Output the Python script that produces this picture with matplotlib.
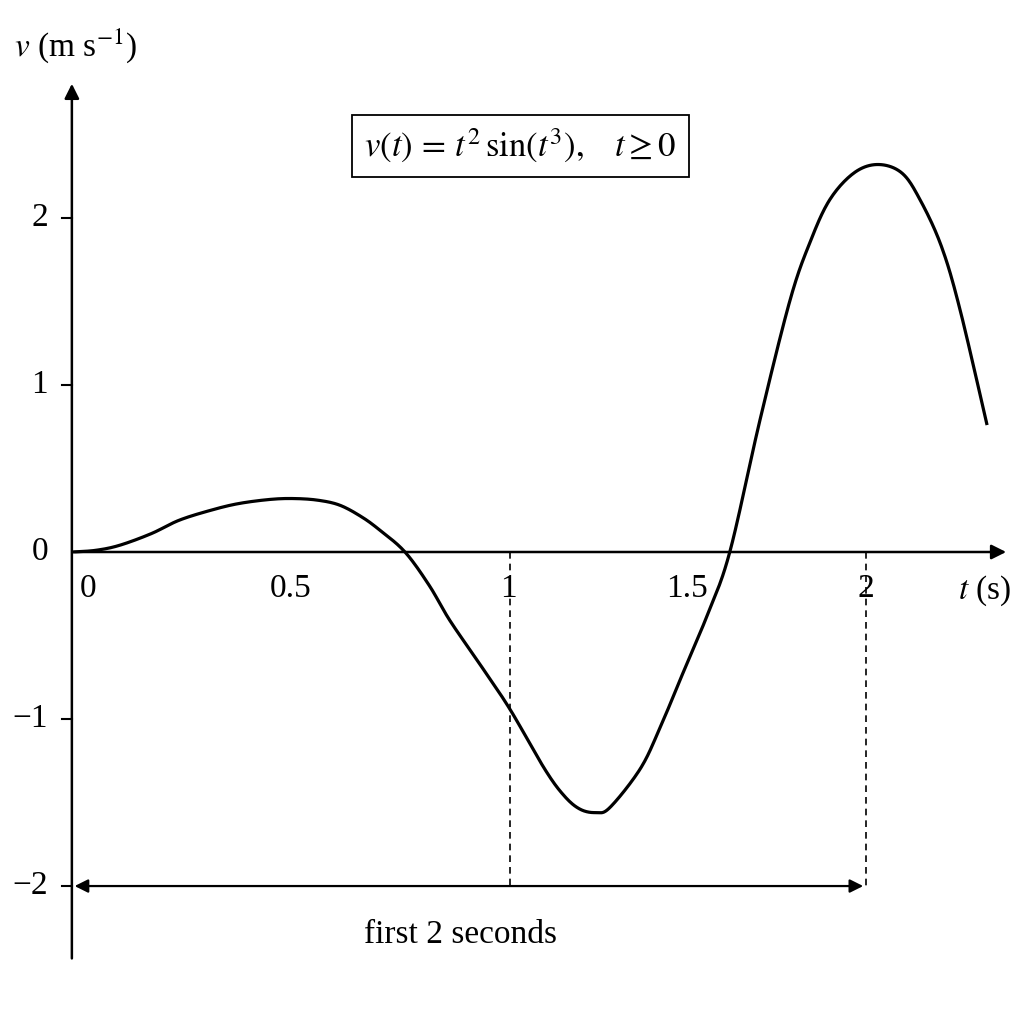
import matplotlib
matplotlib.use("Agg")
import matplotlib.pyplot as plt
import numpy as np

plt.rcParams['font.family'] = ['Liberation Serif', 'DejaVu Serif']
plt.rcParams['mathtext.fontset'] = 'stix'

# curve (t in axis units, v in m/s)
t_vals = [0, 0.06, 0.12, 0.2, 0.27, 0.35, 0.42, 0.5, 0.56, 0.62, 0.675, 0.73, 0.776, 0.839,
          0.9, 0.952, 1.03, 1.103, 1.191, 1.24, 1.28, 1.32, 1.355, 1.431, 1.48, 1.531, 1.6,
          1.657, 1.733, 1.809, 1.86, 1.909, 1.97, 2.03, 2.09, 2.136, 2.19, 2.237, 2.305]
v_vals = [0, 0.01, 0.04, 0.11, 0.19, 0.25, 0.29, 0.315, 0.32, 0.31, 0.28, 0.21, 0.13, 0,
          -0.2, -0.41, -0.68, -0.94, -1.30, -1.46, -1.54, -1.56, -1.53, -1.30, -1.06, -0.77, -0.38,
          0, 0.79, 1.51, 1.86, 2.11, 2.27, 2.32, 2.27, 2.11, 1.83, 1.45, 0.76]
x_tick_pos = [0.04, 0.55, 1.10, 1.55, 2.0]
x_tick_lab = ['0', '0.5', '1', '1.5', '2']
y_ticks = [-2, -1, 0, 1, 2]


def smooth(xs, ys, n=20):
    # Catmull-Rom through the read points, only for a smooth stroke
    p = np.column_stack([xs, ys])
    p = np.vstack([p[0], p, p[-1]])
    out = []
    s = np.linspace(0, 1, n, endpoint=False)[:, None]
    for i in range(1, len(p) - 2):
        p0, p1, p2, p3 = p[i - 1], p[i], p[i + 1], p[i + 2]
        out.append(0.5 * (2 * p1 + (-p0 + p2) * s + (2 * p0 - 5 * p1 + 4 * p2 - p3) * s ** 2
                          + (-p0 + 3 * p1 - 3 * p2 + p3) * s ** 3))
    out.append(p[-2][None, :])
    out = np.vstack(out)
    return out[:, 0], out[:, 1]


fig = plt.figure(figsize=(10.24, 10.24), dpi=100)
ax = fig.add_axes([0, 0, 1, 1])
ax.set_xlim(-0.181, 2.398)
ax.set_ylim(-2.826, 3.305)
ax.axis('off')

sx, sy = smooth(t_vals, v_vals)
ax.plot(sx, sy, color='black', lw=2.3, solid_capstyle='butt')

arr = dict(arrowstyle='-|>', color='black', lw=1.8, mutation_scale=22)
ax.annotate('', xy=(2.36, 0), xytext=(0, 0), arrowprops=arr)
ax.annotate('', xy=(0, 2.82), xytext=(0, -2.45), arrowprops=arr)

for y in y_ticks:
    if y != 0:
        ax.plot([-0.025, 0], [y, y], color='black', lw=1.5)
    ax.text(-0.06, y, '\u2212' + str(-y) if y < 0 else str(y), ha='right', va='center', fontsize=24)
for p, lab in zip(x_tick_pos, x_tick_lab):
    ax.text(p, -0.13, lab, ha='center', va='top', fontsize=24)

ax.text(2.3, -0.13, r'$t$ (s)', ha='center', va='top', fontsize=24)
ax.text(-0.145, 3.03, r'$v$ (m s$^{-1}$)', ha='left', va='center', fontsize=24)

for xd in [1.103, 2.0]:
    ax.plot([xd, xd], [0, -2.0], color='black', lw=1.2, ls=(0, (4, 3)))
ax.annotate('', xy=(0.0, -2.0), xytext=(2.0, -2.0),
            arrowprops=dict(arrowstyle='<|-|>', color='black', lw=1.6, mutation_scale=20))
ax.text(0.98, -2.29, 'first 2 seconds', ha='center', va='center', fontsize=24)

ax.text(1.13, 2.43, r'$v(t)\,=\,t^2\,\sin(t^3),\quad t \geq 0$', ha='center', va='center',
        fontsize=25, bbox=dict(boxstyle='square,pad=0.35', fc='white', ec='black', lw=1.3))

fig.savefig('out.png', dpi=100)
